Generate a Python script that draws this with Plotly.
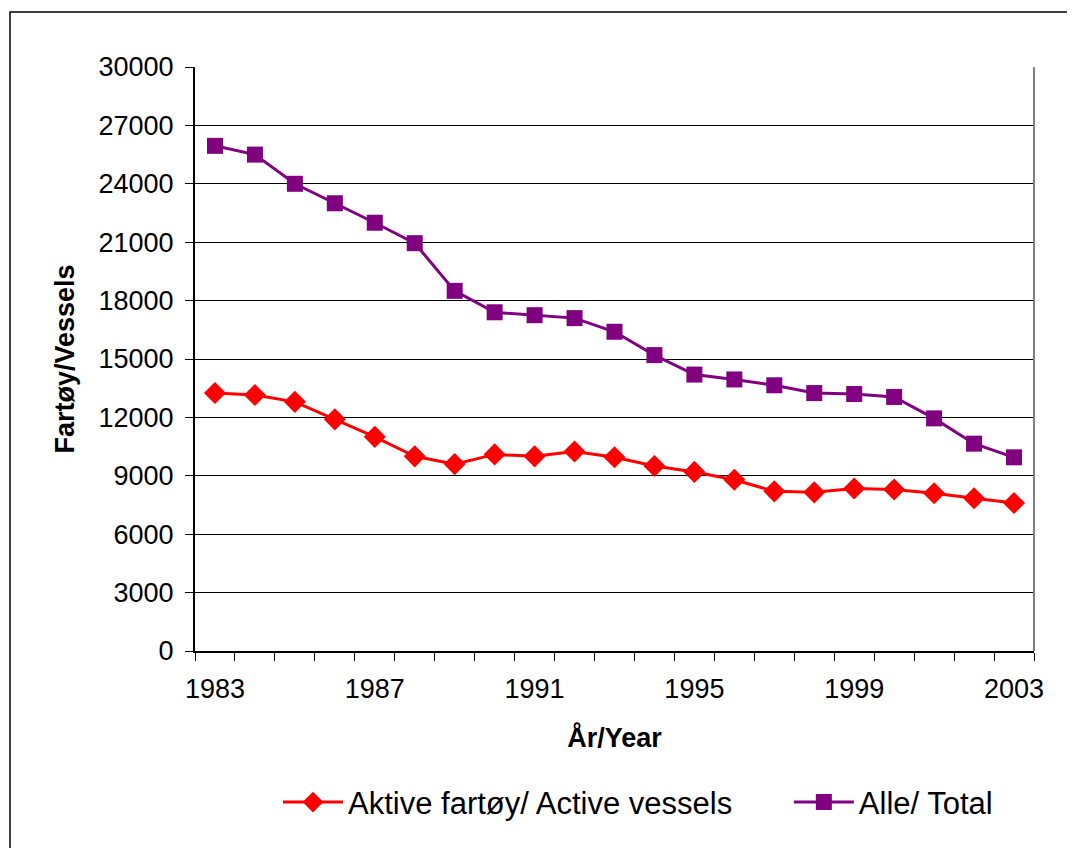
import plotly.graph_objects as go

years = [str(y) for y in range(1983, 2004)]
active = [13250, 13150, 12800, 11900, 11000, 10000, 9600, 10100, 10000, 10250,
          9950, 9500, 9200, 8800, 8200, 8150, 8350, 8300, 8100, 7850, 7600]
total = [25950, 25500, 24000, 23000, 22000, 20950, 18500, 17400, 17250, 17100,
         16400, 15200, 14200, 13950, 13650, 13250, 13200, 13050, 11950, 10650, 9950]
y_ticks = list(range(0, 30001, 3000))
y_labels = [str(v) for v in y_ticks]
x_labels = [y if (int(y) - 1983) % 4 == 0 else "" for y in years]

FONT = "Liberation Sans, Arial, sans-serif"

fig = go.Figure()
fig.add_trace(go.Scatter(
    x=years, y=active, name="Aktive fartøy/ Active vessels      ",
    mode="lines+markers",
    line=dict(color="#FF0000", width=3),
    marker=dict(symbol="diamond", size=17, color="#FF0000"),
))
fig.add_trace(go.Scatter(
    x=years, y=total, name="Alle/ Total",
    mode="lines+markers",
    line=dict(color="#800080", width=3),
    marker=dict(symbol="square", size=16, color="#800080"),
))

fig.update_layout(
    width=1067, height=840,
    margin=dict(l=187, r=41, t=59, b=197),
    paper_bgcolor="white", plot_bgcolor="white",
    font=dict(family=FONT, size=27, color="black"),
    showlegend=True,
    legend=dict(orientation="h", x=0.528, xanchor="center", y=-0.213, yanchor="top",
                font=dict(size=31), itemwidth=60),
    xaxis=dict(
        type="category", tickmode="array", tickvals=years, ticktext=x_labels,
        tickson="boundaries", ticks="outside", ticklen=8, tickcolor="black",
        tickangle=0, automargin=False, ticklabelstandoff=13,
        showline=True, linecolor="black", linewidth=2, showgrid=False,
        title=dict(text="<b>År/Year</b>", font=dict(size=27), standoff=25),
        tickfont=dict(size=27), range=[-0.5, 20.5],
    ),
    yaxis=dict(
        range=[0, 30000], tickmode="array", tickvals=y_ticks, ticktext=y_labels,
        ticks="outside", ticklen=8, automargin=False, ticklabelstandoff=6,
        tickcolor="black", showline=True, linecolor="black", linewidth=2,
        showgrid=True, gridcolor="black", gridwidth=1, zeroline=False,
        title=dict(text="<b>Fartøy/Vessels</b>", font=dict(size=27), standoff=16),
        tickfont=dict(size=27),
    ),
    shapes=[
        dict(type="line", xref="paper", yref="paper", x0=1, x1=1, y0=0, y1=1,
             line=dict(color="#808080", width=2)),
        dict(type="rect", xref="paper", yref="paper", x0=-0.2205, x1=1.06,
             y0=-0.35, y1=1.0942, line=dict(color="black", width=1.5),
             layer="below"),
    ],
)

fig.write_html("out.html")
